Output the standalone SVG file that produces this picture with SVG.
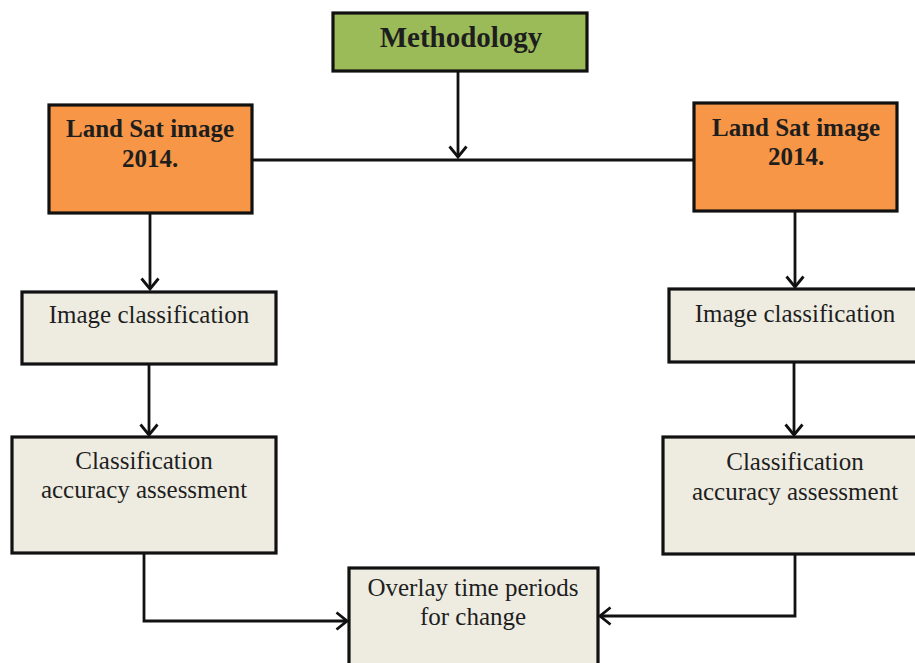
<svg xmlns="http://www.w3.org/2000/svg" width="915" height="663" viewBox="0 0 915 663">
  <style>
    .box { stroke: #111; stroke-width: 3.2; }
    .green { fill: #9bbb59; }
    .orange { fill: #f79646; }
    .beige { fill: #eeece1; }
    .conn { fill: none; stroke: #111; stroke-width: 2.8; }
    text { font-family: "Liberation Serif", "Times New Roman", serif; text-anchor: middle; fill: #1e1e1e; }
    .bold { font-weight: bold; }
    .t29 { font-size: 29px; }
    .t25 { font-size: 25px; }
  </style>
  <defs>
    <marker id="arr" viewBox="0 0 14 20" refX="12" refY="10" markerWidth="14" markerHeight="20" markerUnits="userSpaceOnUse" orient="auto">
      <path d="M1.5,1.5 L12,10 L1.5,18.5" fill="none" stroke="#111" stroke-width="2.8"/>
    </marker>
  </defs>
  <rect width="915" height="663" fill="#ffffff"/>

  <g id="connectors">
    <line class="conn" x1="252" y1="160" x2="694" y2="160"/>
    <line class="conn" x1="458" y1="71" x2="458" y2="157" marker-end="url(#arr)"/>
    <line class="conn" x1="150" y1="213" x2="150" y2="289" marker-end="url(#arr)"/>
    <line class="conn" x1="795" y1="211" x2="795" y2="287" marker-end="url(#arr)"/>
    <line class="conn" x1="149" y1="364" x2="149" y2="435" marker-end="url(#arr)"/>
    <line class="conn" x1="794" y1="362" x2="794" y2="435" marker-end="url(#arr)"/>
    <polyline class="conn" points="144,553 144,621 347,621" marker-end="url(#arr)"/>
    <polyline class="conn" points="795,554 795,616 600,616" marker-end="url(#arr)"/>
  </g>

  <g id="methodology">
    <rect class="box green" x="333" y="13" width="254" height="58"/>
    <text class="bold t29" x="461" y="47">Methodology</text>
  </g>

  <g id="landsat-left">
    <rect class="box orange" x="49" y="105" width="203" height="108"/>
    <text class="bold t25" x="150" y="137">Land Sat image</text>
    <text class="bold t25" x="150" y="167">2014.</text>
  </g>

  <g id="landsat-right">
    <rect class="box orange" x="694" y="103" width="203" height="108"/>
    <text class="bold t25" x="796" y="136">Land Sat image</text>
    <text class="bold t25" x="796" y="165">2014.</text>
  </g>

  <g id="imgclass-left">
    <rect class="box beige" x="22" y="292" width="254" height="72"/>
    <text class="t25" x="149" y="323">Image classification</text>
  </g>

  <g id="imgclass-right">
    <rect class="box beige" x="669" y="289" width="254" height="73"/>
    <text class="t25" x="795" y="322">Image classification</text>
  </g>

  <g id="accuracy-left">
    <rect class="box beige" x="12" y="437" width="264" height="116"/>
    <text class="t25" x="144" y="469">Classification</text>
    <text class="t25" x="144" y="498">accuracy assessment</text>
  </g>

  <g id="accuracy-right">
    <rect class="box beige" x="663" y="437" width="264" height="117"/>
    <text class="t25" x="795" y="470">Classification</text>
    <text class="t25" x="795" y="500">accuracy assessment</text>
  </g>

  <g id="overlay">
    <rect class="box beige" x="349" y="568" width="249" height="110"/>
    <text class="t25" x="473" y="596">Overlay time periods</text>
    <text class="t25" x="473" y="625">for change</text>
  </g>
</svg>
